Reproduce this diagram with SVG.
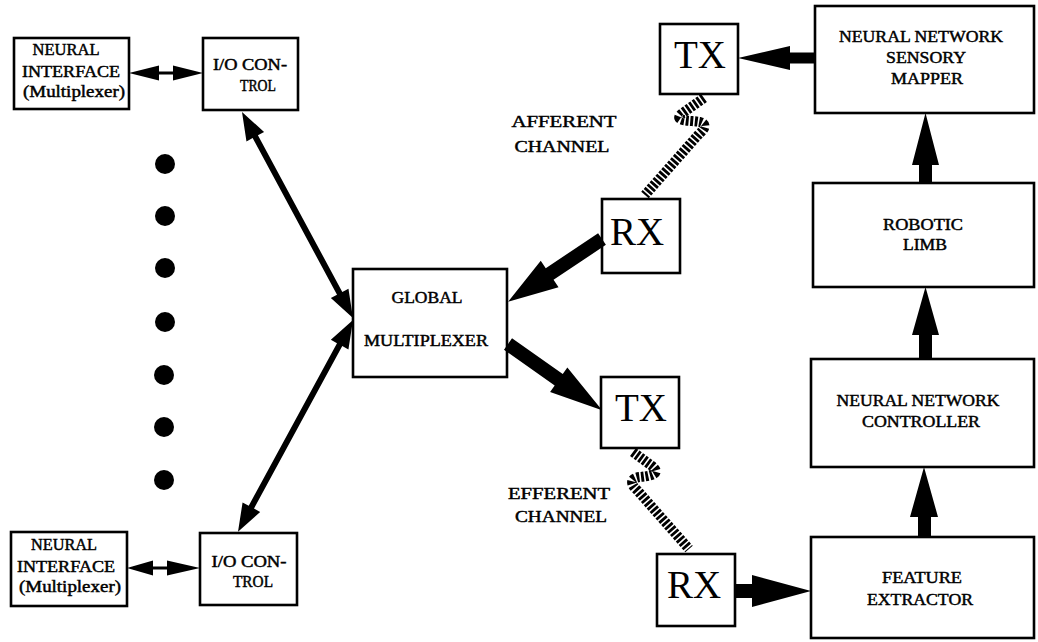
<svg xmlns="http://www.w3.org/2000/svg" width="1038" height="642" viewBox="0 0 1038 642">
<style>
.box{fill:#fff;stroke:#000;stroke-width:2.6}
.t{font-family:"Liberation Serif","Times New Roman",serif;font-size:16px;fill:#000;text-anchor:middle;stroke:#000;stroke-width:0.45}
.big{font-family:"Liberation Serif","Times New Roman",serif;font-size:39px;fill:#000;text-anchor:middle}
.ar{fill:#000}
.wave{fill:none;stroke:#000;stroke-width:10;stroke-dasharray:2.8 1.6}
</style>
<rect width="1038" height="642" fill="#fff"/>
<g id="ni-top">
<rect class="box" x="14" y="38" width="115" height="71"/>
<text class="t" x="66" y="55" textLength="67" lengthAdjust="spacingAndGlyphs">NEURAL</text>
<text class="t" x="71" y="77" textLength="98" lengthAdjust="spacingAndGlyphs">INTERFACE</text>
<text class="t" x="74" y="97" textLength="102" lengthAdjust="spacingAndGlyphs">(Multiplexer)</text>
</g>
<g id="io-top">
<rect class="box" x="203" y="38" width="95" height="72"/>
<text class="t" x="250" y="70" textLength="74" lengthAdjust="spacingAndGlyphs">I/O CON-</text>
<text class="t" x="258" y="91" textLength="36" lengthAdjust="spacingAndGlyphs">TROL</text>
</g>
<g id="ni-bottom">
<rect class="box" x="11" y="532" width="116" height="74"/>
<text class="t" x="64" y="550" textLength="66" lengthAdjust="spacingAndGlyphs">NEURAL</text>
<text class="t" x="66" y="572" textLength="98" lengthAdjust="spacingAndGlyphs">INTERFACE</text>
<text class="t" x="70" y="592" textLength="102" lengthAdjust="spacingAndGlyphs">(Multiplexer)</text>
</g>
<g id="io-bottom">
<rect class="box" x="200" y="533" width="97" height="72"/>
<text class="t" x="249" y="567" textLength="75" lengthAdjust="spacingAndGlyphs">I/O CON-</text>
<text class="t" x="253" y="587" textLength="40" lengthAdjust="spacingAndGlyphs">TROL</text>
</g>
<g id="dots">
<circle cx="165" cy="164" r="10"/>
<circle cx="165" cy="216" r="10"/>
<circle cx="165" cy="268" r="10"/>
<circle cx="165" cy="322" r="10"/>
<circle cx="164" cy="375" r="10"/>
<circle cx="164" cy="427" r="10"/>
<circle cx="164" cy="480" r="10"/>
</g>
<g id="global-mux">
<rect class="box" x="353" y="269" width="154" height="108"/>
<text class="t" x="427" y="303" textLength="71" lengthAdjust="spacingAndGlyphs">GLOBAL</text>
<text class="t" x="426" y="346" textLength="124" lengthAdjust="spacingAndGlyphs">MULTIPLEXER</text>
</g>
<g id="tx-top">
<rect class="box" x="660" y="24" width="78" height="70"/>
<text class="big" x="700" y="68">TX</text>
</g>
<g id="rx-top">
<rect class="box" x="602" y="199" width="78" height="74"/>
<text class="big" x="637" y="245">RX</text>
</g>
<g id="tx-bottom">
<rect class="box" x="601" y="377" width="78" height="71"/>
<text class="big" x="641" y="421">TX</text>
</g>
<g id="rx-bottom">
<rect class="box" x="657" y="554" width="78" height="72"/>
<text class="big" x="694" y="598">RX</text>
</g>
<g id="afferent-label">
<text class="t" x="564" y="127" textLength="105" lengthAdjust="spacingAndGlyphs">AFFERENT</text>
<text class="t" x="562" y="152" textLength="95" lengthAdjust="spacingAndGlyphs">CHANNEL</text>
</g>
<g id="efferent-label">
<text class="t" x="559" y="499" textLength="102" lengthAdjust="spacingAndGlyphs">EFFERENT</text>
<text class="t" x="561" y="522" textLength="92" lengthAdjust="spacingAndGlyphs">CHANNEL</text>
</g>
<g id="sensory-mapper">
<rect class="box" x="815" y="6" width="219" height="107"/>
<text class="t" x="921" y="42" textLength="164" lengthAdjust="spacingAndGlyphs">NEURAL NETWORK</text>
<text class="t" x="926" y="63" textLength="80" lengthAdjust="spacingAndGlyphs">SENSORY</text>
<text class="t" x="927" y="84" textLength="72" lengthAdjust="spacingAndGlyphs">MAPPER</text>
</g>
<g id="robotic-limb">
<rect class="box" x="813" y="183" width="221" height="104"/>
<text class="t" x="923" y="230" textLength="80" lengthAdjust="spacingAndGlyphs">ROBOTIC</text>
<text class="t" x="925" y="250" textLength="44" lengthAdjust="spacingAndGlyphs">LIMB</text>
</g>
<g id="nn-controller">
<rect class="box" x="811" y="359" width="223" height="108"/>
<text class="t" x="918" y="406" textLength="163" lengthAdjust="spacingAndGlyphs">NEURAL NETWORK</text>
<text class="t" x="921" y="427" textLength="118" lengthAdjust="spacingAndGlyphs">CONTROLLER</text>
</g>
<g id="feature-extractor">
<rect class="box" x="811" y="537" width="223" height="101"/>
<text class="t" x="922" y="583" textLength="80" lengthAdjust="spacingAndGlyphs">FEATURE</text>
<text class="t" x="920" y="605" textLength="106" lengthAdjust="spacingAndGlyphs">EXTRACTOR</text>
</g>
<g id="connectors">
<polygon class="ar" points="129,73 159,65.5 159,71.5 173,71.5 173,65.5 203,73 173,80.5 173,74.5 159,74.5 159,80.5"/>
<polygon class="ar" points="127,568 153,560.5 153,566.5 167,566.5 167,560.5 200,568 167,575.5 167,569.5 153,569.5 153,575.5"/>
<polygon class="ar" transform="translate(242,112) rotate(61.7)" points="0,0 28,-10 28,-3 206,-3 206,-10 234,0 206,10 206,3 28,3 28,10"/>
<polygon class="ar" transform="translate(353,320) rotate(118.5)" points="0,0 28,-10 28,-3 213,-3 213,-10 241,0 213,10 213,3 28,3 28,10"/>
<polygon class="ar" transform="translate(602,239) rotate(146.2)" points="0,-7 63,-7 63,-16 113,0 63,16 63,7 0,7"/>
<polygon class="ar" transform="translate(508,344) rotate(35.1)" points="0,-7 62,-7 62,-15 115,0 62,15 62,7 0,7"/>
<polygon class="ar" points="815,52.5 790,52.5 790,46 738,58 790,70 790,63.5 815,63.5"/>
<polygon class="ar" points="919,183 919,165 912,165 925.5,113 939,165 932,165 932,183"/>
<polygon class="ar" points="919,359 919,335 912,335 925.5,287 939,335 932,335 932,359"/>
<polygon class="ar" points="918,537 918,517 910,517 924,467 938,517 931,517 931,537"/>
<polygon class="ar" points="735,584 752,584 752,575 811,591 752,607 752,598 735,598"/>
<path class="wave" d="M 704 98 L 684 112 C 670 122 690 120 700 122 C 708 124 704 130 699 134 L 645 195"/>
<path class="wave" d="M 633 452 L 652 466 C 662 474 650 476 640 477 C 630 478 630 484 637 490 L 689 549"/>
</g>
</svg>
